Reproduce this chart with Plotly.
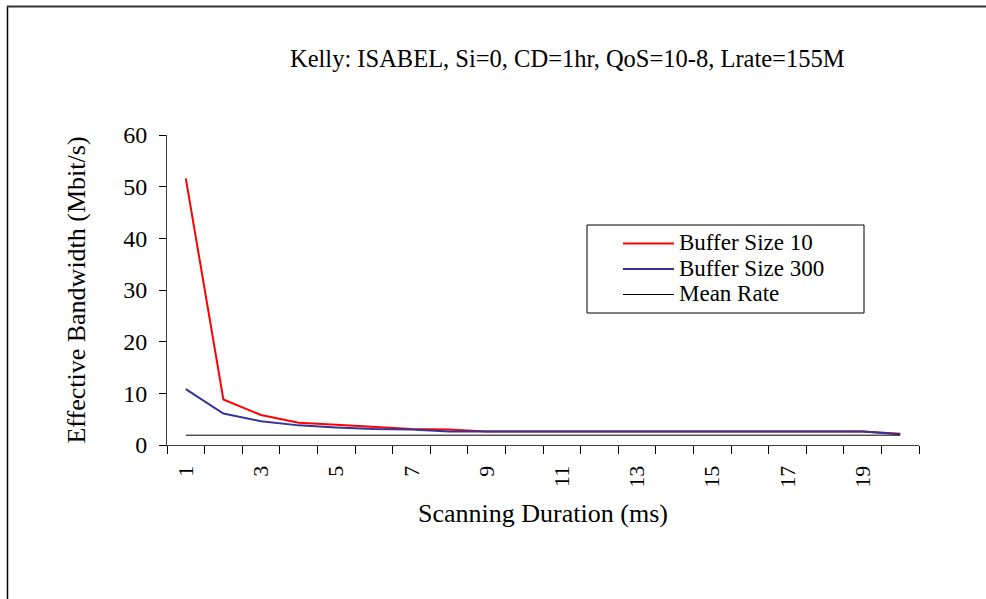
import plotly.graph_objects as go

# ---- data ----
categories = [str(i) for i in range(1, 21)]
tick_labels = [c if int(c) % 2 == 1 else "" for c in categories]
buffer_10 = [51.6, 8.8, 5.8, 4.3, 3.9, 3.5, 3.1, 3.0, 2.6, 2.6,
             2.6, 2.6, 2.6, 2.6, 2.6, 2.6, 2.6, 2.6, 2.6, 2.2]
buffer_300 = [10.8, 6.1, 4.6, 3.8, 3.4, 3.1, 3.0, 2.6, 2.6, 2.6,
              2.6, 2.6, 2.6, 2.6, 2.6, 2.6, 2.6, 2.6, 2.6, 2.1]
mean_rate = [1.9] * 20

series_names = ["Buffer Size 10", "Buffer Size 300", "Mean Rate"]
series_colors = ["#FF0000", "#333399", "#000000"]
series_widths = [2, 2, 1]

title_text = "Kelly: ISABEL, Si=0, CD=1hr, QoS=10-8, Lrate=155M"
x_title = "Scanning Duration (ms)"
y_title = "Effective Bandwidth (Mbit/s)"

FONT = "Liberation Serif, Times New Roman, serif"

W, H = 986, 599
L, R, T, B = 167, 919, 135, 445  # plot area in pixels


def px_x(p):
    return (p - L) / (R - L)


def px_y(p):
    return (B - p) / (B - T)


fig = go.Figure()
for name, vals, col, lw in zip(series_names, [buffer_10, buffer_300, mean_rate],
                               series_colors, series_widths):
    fig.add_trace(go.Scatter(x=categories, y=vals, mode="lines", name=name,
                             line=dict(color=col, width=lw), showlegend=False))

# legend drawn as a boxed key (to match the compact original layout)
leg_left, leg_top, leg_right, leg_bottom = 587, 225, 864, 313
leg_rows = [243.5, 269, 294.5]
shapes = [
    dict(type="rect", xref="paper", yref="paper",
         x0=px_x(leg_left), x1=px_x(leg_right), y0=px_y(leg_bottom), y1=px_y(leg_top),
         line=dict(color="black", width=1), fillcolor="white", layer="above"),
    dict(type="line", xref="paper", yref="paper", x0=px_x(7.5), x1=px_x(7.5),
         y0=px_y(6), y1=px_y(W), line=dict(color="black", width=1.5)),
    dict(type="line", xref="paper", yref="paper", x0=px_x(7), x1=px_x(W + 5),
         y0=px_y(6.5), y1=px_y(6.5), line=dict(color="#333333", width=2)),
]
annotations = [dict(text=title_text, x=px_x(567), y=px_y(58), xref="paper", yref="paper",
                    xanchor="center", yanchor="middle", showarrow=False,
                    font=dict(family=FONT, size=24.5))]
for name, col, lw, yrow in zip(series_names, series_colors, series_widths, leg_rows):
    shapes.append(dict(type="line", xref="paper", yref="paper",
                       x0=px_x(623), x1=px_x(674), y0=px_y(yrow), y1=px_y(yrow),
                       line=dict(color=col, width=lw), layer="above"))
    annotations.append(dict(text=name, x=px_x(678), y=px_y(yrow - 1), xref="paper", yref="paper",
                            xanchor="left", yanchor="middle", showarrow=False, borderpad=0,
                            font=dict(family=FONT, size=23)))

fig.update_layout(
    width=W, height=H,
    margin=dict(l=L, r=W - R, t=T, b=H - B),
    paper_bgcolor="white", plot_bgcolor="white",
    font=dict(family=FONT, size=22, color="black"),
    showlegend=False,
    xaxis=dict(type="category", tickmode="array", tickvals=categories, ticktext=tick_labels,
               range=[-0.5, 19.5], tickson="boundaries", ticks="outside", ticklen=8,
               tickcolor="black", tickangle=-90, ticklabelstandoff=11,
               showline=True, linecolor="#404040", linewidth=1,
               showgrid=False, zeroline=False,
               title=dict(text=x_title, font=dict(family=FONT, size=26), standoff=17),
               tickfont=dict(family=FONT, size=22)),
    yaxis=dict(range=[0, 60], dtick=10, ticks="outside", ticklen=7, tickcolor="black",
               ticklabelstandoff=7,
               showline=True, linecolor="#404040", linewidth=1, showgrid=False, zeroline=False,
               title=dict(text=y_title, font=dict(family=FONT, size=26), standoff=30),
               tickfont=dict(family=FONT, size=24)),
    annotations=annotations,
    shapes=shapes,
)

fig.write_html("out.html")
